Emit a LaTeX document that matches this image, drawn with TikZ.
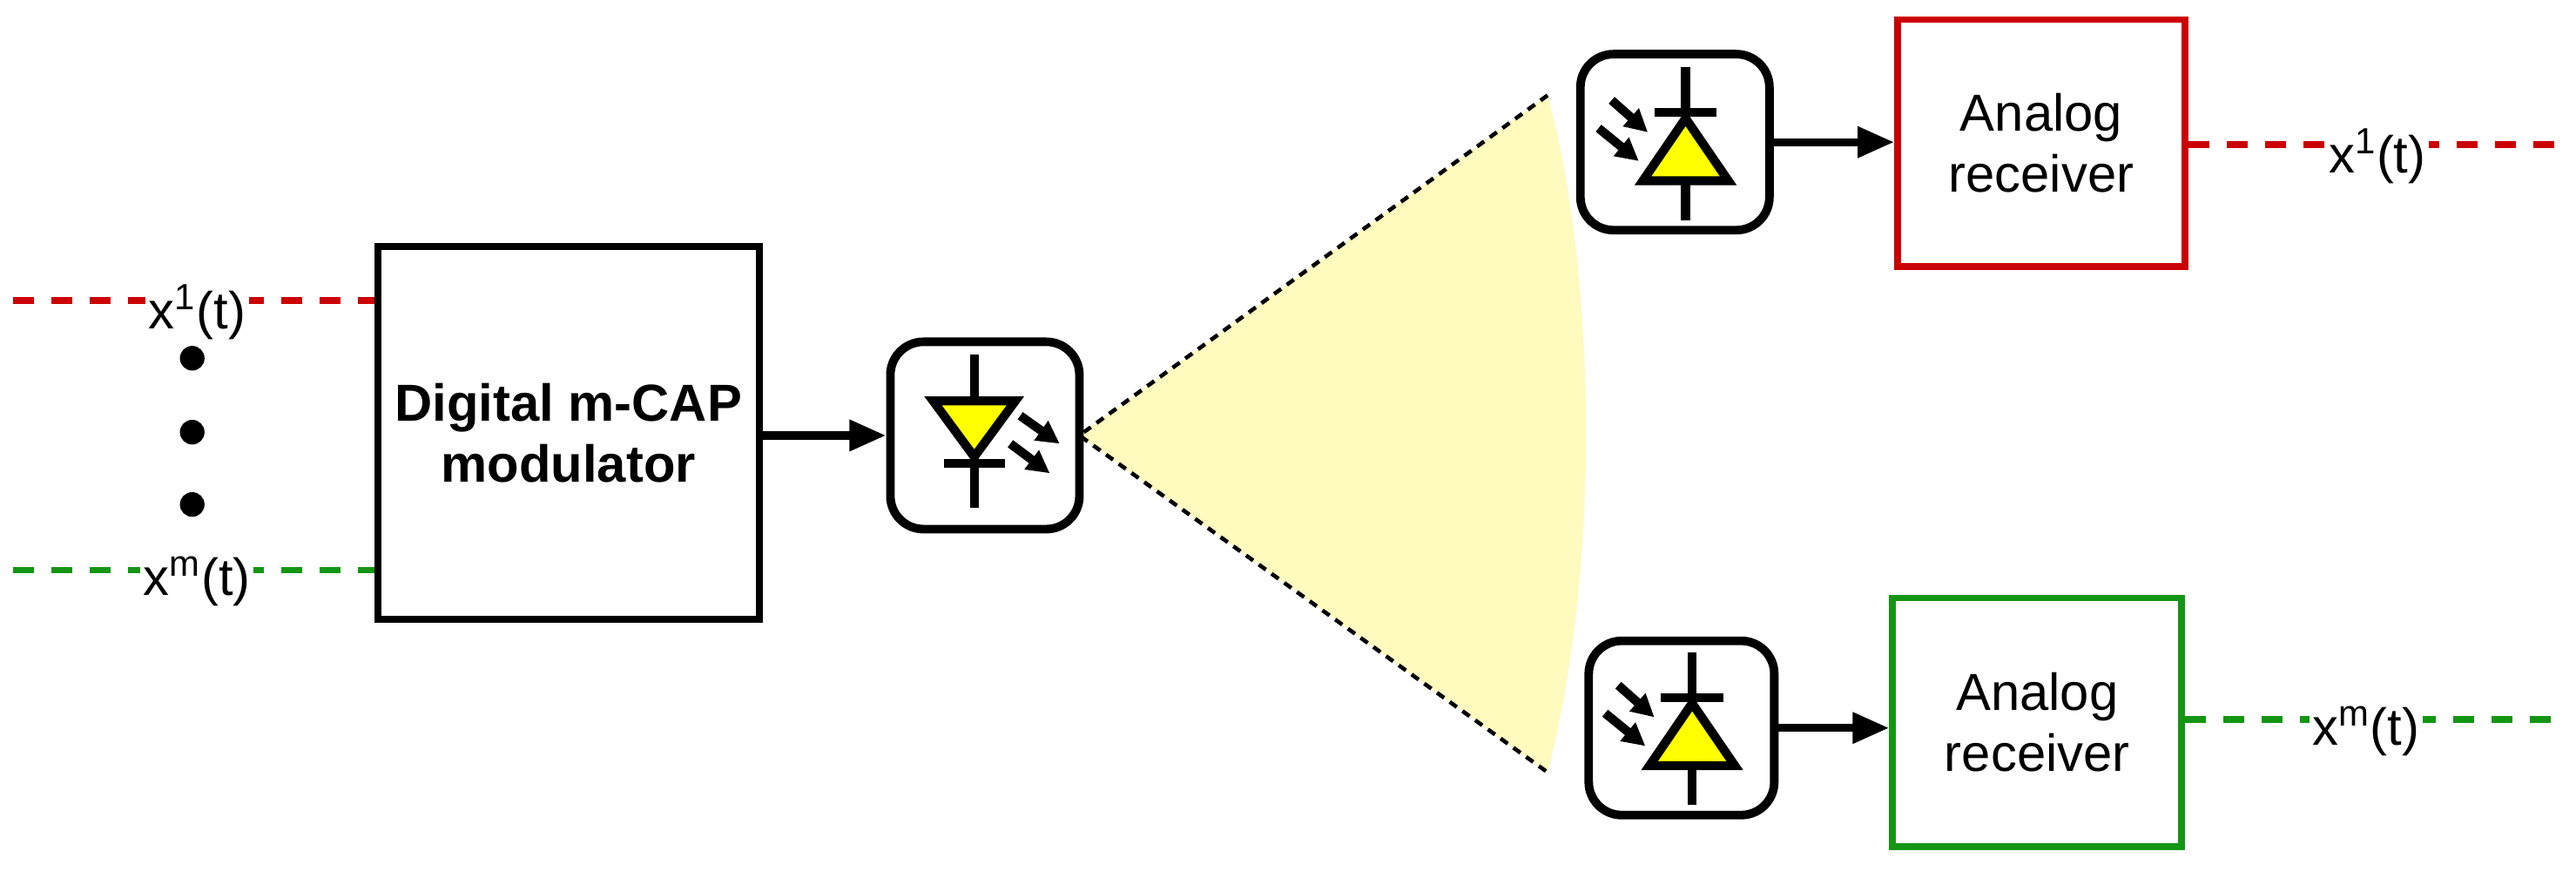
\documentclass[tikz,border=0pt]{standalone}
\usepackage{fontspec}
\setmainfont{Liberation Sans}
\usetikzlibrary{arrows.meta}
\definecolor{rred}{RGB}{204,0,0}
\definecolor{ggreen}{RGB}{20,150,20}
\definecolor{cone}{RGB}{255,250,190}
\definecolor{dyel}{RGB}{255,255,0}
\tikzset{
  blk/.style={draw,line width=2.2pt,inner sep=0pt,align=center,font=\fontsize{17}{20}\selectfont},
  sym/.style={draw,line width=2.8pt,rounded corners=0.38cm,inner sep=0pt},
  sl/.style={line width=2.9pt},
  sarr/.style={line width=2.9pt,-{Triangle[length=0.26cm,width=0.26cm]}},
  marr/.style={line width=2.6pt,-{Triangle[length=0.42cm,width=0.34cm]}},
  sig/.style={line width=2.2pt,dash pattern=on 0.24cm off 0.2cm},
  lbl/.style={font=\fontsize{17}{20}\selectfont,inner sep=1pt}
}
\newcommand{\ledsym}{%
  \draw[sl] (0,-49) -- (0,44);
  \draw[sl,fill=dyel] (-25,-21) -- (25,-21) -- (0,13) -- cycle;
  \draw[sl] (-18.5,17) -- (18.5,17);
  \draw[sarr] (28,-12) -- (52,5);
  \draw[sarr] (22,5) -- (46,23);}
\newcommand{\pdsym}{%
  \draw[sl] (0,-46) -- (0,47);
  \draw[sl,fill=dyel] (-26,23) -- (26,23) -- (0,-15) -- cycle;
  \draw[sl] (-19,-18.5) -- (19,-18.5);
  \draw[sarr] (-45,-26) -- (-23,-6.5);
  \draw[sarr] (-53,-9) -- (-28.5,11);}
\begin{document}
\begin{tikzpicture}[x=0.018865cm,y=-0.018865cm]
\useasboundingbox (0,0) rectangle (1568,534);
% cone
\fill[cone] (657,265) -- (942,58) .. controls (968,150) and (978,330) .. (942,470) -- cycle;
\draw[line width=1.3pt,dash pattern=on 0.1cm off 0.08cm] (942,58) -- (657,265) -- (942,470);
% modulator
\node[blk,font=\bfseries\fontsize{17}{20}\selectfont,minimum width=4.38cm,minimum height=4.28cm] (mod) at (346,263.5) {Digital m-CAP\\modulator};
% LED
\node[sym,minimum width=2.17cm,minimum height=2.15cm] (led) at (599.5,265) {};
\begin{scope}[shift={(593,265)}]\ledsym\end{scope}
% PDs
\node[sym,minimum width=2.17cm,minimum height=2.02cm] (pd1) at (1019.5,86.5) {};
\begin{scope}[shift={(1026,87)}]\pdsym\end{scope}
\node[sym,minimum width=2.13cm,minimum height=2.0cm] (pd2) at (1023.5,443) {};
\begin{scope}[shift={(1030,443)}]\pdsym\end{scope}
% receivers
\node[blk,draw=rred,minimum width=3.3cm,minimum height=2.83cm] (rx1) at (1242.5,87) {Analog\\receiver};
\node[blk,draw=ggreen,minimum width=3.32cm,minimum height=2.85cm] (rx2) at (1240,439.5) {Analog\\receiver};
% arrows
\draw[marr] (mod.east |- led) -- (led.west);
\draw[marr] (pd1.east) -- (rx1.west |- pd1.east);
\draw[marr] (pd2.east) -- (rx2.west |- pd2.east);
% signals
\coordinate (in1) at (8,183);
\coordinate (inm) at (8,347);
\coordinate (o1) at (1562,88);
\coordinate (om) at (1562,438);
\draw[sig,draw=rred] (in1) -- (in1 -| mod.west);
\draw[sig,draw=ggreen] (inm) -- (inm -| mod.west);
\draw[sig,draw=rred] (rx1.east |- o1) -- (o1);
\draw[sig,draw=ggreen] (rx2.east |- om) -- (om);
\node[lbl,fill=white] (l1) at (120,190) {x\textsuperscript{1}(t)};
\node[lbl,fill=white] (lm) at (120,354) {x\textsuperscript{m}(t)};
\node[lbl,fill=white] (r1) at (1447,95) {x\textsuperscript{1}(t)};
\node[lbl,fill=white] (rm) at (1440,445) {x\textsuperscript{m}(t)};
\foreach \yy in {218,263,307} \fill (117,\yy) circle (7.5);
\end{tikzpicture}
\end{document}
